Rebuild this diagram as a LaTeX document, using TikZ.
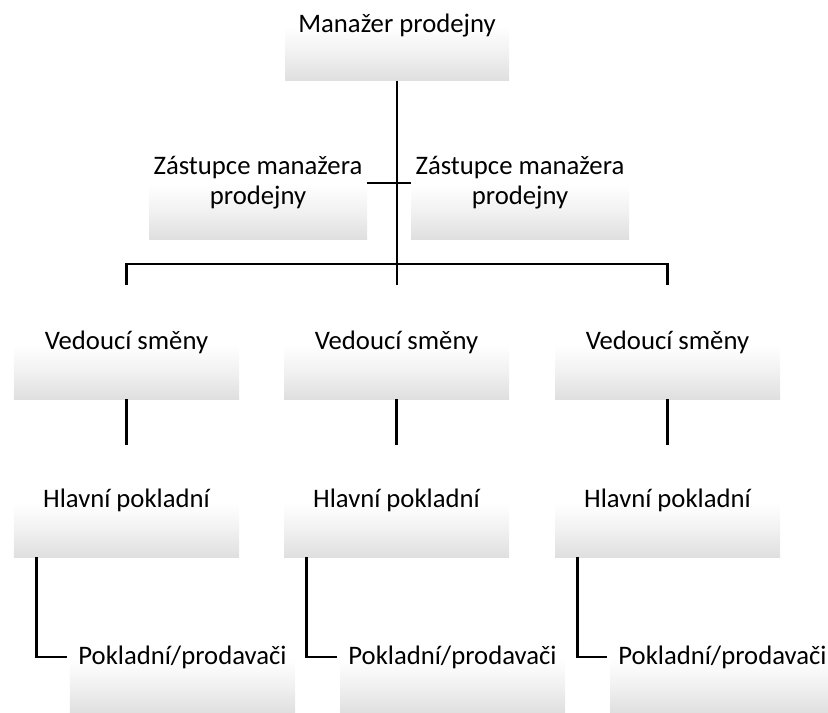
\documentclass[tikz,border=0pt]{standalone}
\usepackage{fontspec}
\setmainfont{Carlito}
\definecolor{boxgray}{RGB}{223,223,223}
\begin{document}
\begin{tikzpicture}[x=1bp,y=-1bp,
  box/.style={rectangle, draw=none, inner sep=0, minimum height=54bp,
    top color=white, bottom color=boxgray, middle color=boxgray!45},
  lbl/.style={inner sep=0, align=center, font=\fontsize{26.8}{30}\selectfont},
  conn/.style={draw=black, line width=2.9bp}]
\useasboundingbox (0,0) rectangle (828,713);
% boxes
\node[box, minimum width=224bp] (top) at (397,53.5) {};
\node[box, minimum width=218bp] (depL) at (258,212) {};
\node[box, minimum width=218bp] (depR) at (520,212) {};
\foreach \i/\x in {1/126.5,2/396.5,3/667.5}{
  \node[box, minimum width=225bp] (ved\i) at (\x,372) {};
  \node[box, minimum width=225bp] (hlav\i) at (\x,530) {};
}
\foreach \i/\x in {1/182.5,2/452.5,3/722.5}{
  \node[box, minimum width=225bp] (pok\i) at (\x,686) {};
}
% labels
\node[lbl] (topT) at (397,26) {Manažer prodejny};
\node[lbl] (depLT) at (258,183) {Zástupce manažera\\prodejny};
\node[lbl] (depRT) at (520,183) {Zástupce manažera\\prodejny};
\foreach \i in {1,2,3}{
  \node[lbl] (ved\i T) at ([yshift=2bp]ved\i.north) {Vedoucí směny};
  \node[lbl] (hlav\i T) at ([yshift=2bp]hlav\i.north) {Hlavní pokladní};
  \node[lbl] (pok\i T) at ([yshift=1bp]pok\i.north) {Pokladní/prodavači};
}
% helper coordinates
\coordinate (cross) at (0,183);
\coordinate (bus) at (0,264);
\coordinate (drop) at (0,285);
\coordinate (lowend) at (0,445);
\coordinate (elbow) at (0,657);
% connectors
\draw[conn] (top.south) -- (top.south |- drop);
\draw[conn] (depL.east |- cross) -- (depR.west |- cross);
\draw[conn] (ved1.north |- drop) |- (ved3.north |- bus) -- (ved3.north |- drop);
\foreach \i in {1,2,3}{
  \draw[conn] (ved\i.south) -- (ved\i.south |- lowend);
  \draw[conn] ([xshift=23bp]hlav\i.south west) |- ([xshift=-3bp]pok\i.west |- elbow);
}
\end{tikzpicture}
\end{document}
